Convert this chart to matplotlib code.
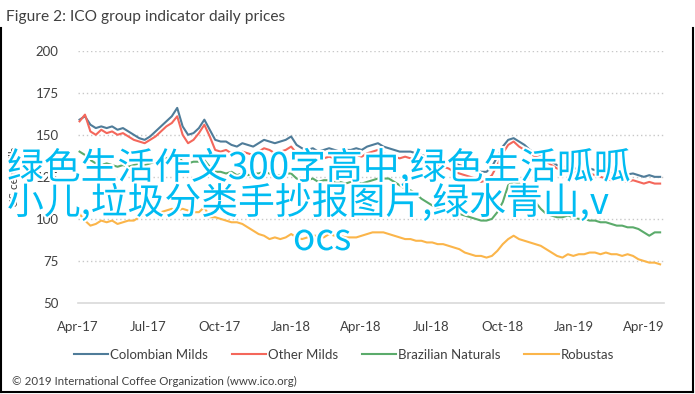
import numpy as np
import pandas as pd
import matplotlib
matplotlib.use("Agg")
import matplotlib.pyplot as plt
import matplotlib.dates as mdates
import matplotlib.patheffects as pe

# weekly readings, starting Mon 3 Apr 2017
dates = pd.date_range("2017-04-03", periods=108, freq="7D")

colombian_milds = [
    159, 161, 156, 154, 155, 154, 155, 153, 154, 152, 150, 148, 147, 149, 152, 155,
    158, 161, 166, 155, 150, 151, 154, 159, 153, 147, 146, 146, 144, 143, 145, 144,
    143, 145, 147, 146, 145, 146, 147, 149, 144, 142, 141, 142, 140, 141, 142, 141,
    140, 141, 141, 142, 141, 143, 144, 145, 143, 142, 141, 140, 140, 140, 139, 138,
    137, 137, 136, 135, 134, 133, 132, 131, 130, 129, 128, 128, 131, 137, 143, 147,
    148, 146, 144, 141, 139, 138, 136, 134, 132, 131, 131, 130, 130, 129, 130, 129,
    128, 127, 127, 128, 127, 126.5, 127, 126, 125, 126, 125, 125]
other_milds = [
    158, 162, 152, 150, 153, 151, 152, 150, 151, 149, 147, 146, 145, 147, 149, 152,
    155, 157, 161, 150, 145, 147, 151, 156, 149, 141, 140, 141, 139, 138, 140, 139,
    138, 140, 142, 141, 139, 140, 141, 143, 139, 137, 136, 137, 135, 136, 137, 136,
    135, 136, 137, 138, 137, 139, 140, 141, 139, 138, 137, 136, 137, 136, 135, 134,
    133, 134, 132, 131, 130, 128, 127, 126, 125, 124, 122, 123, 126, 132, 139, 144,
    146, 143, 141, 139, 137, 136, 134, 132, 130, 129, 128, 128, 127, 126, 127, 126,
    125, 124, 123, 124, 123, 122, 123, 122, 121, 122, 121, 121]
brazilian_naturals = [
    140, 138, 135, 133, 132, 133, 132, 131, 132, 131, 132, 133, 132, 133, 134, 135,
    136, 137, 138, 134, 133, 134, 134, 135, 131, 128, 128, 127, 128, 126, 127, 126,
    127, 127, 128, 127, 126, 126, 127, 127, 124, 123, 123, 124, 122, 123, 123, 122,
    122, 121, 122, 122, 121, 122, 123, 124, 124, 124, 122, 120, 118, 117, 115, 112,
    110, 108, 106, 105, 104, 104, 103, 102, 101, 100, 99, 99, 100, 104, 110, 120,
    122, 121, 118, 115, 110, 106, 103, 102, 101, 101, 102, 101, 100, 100, 99, 99,
    98, 98, 97, 96, 96, 95, 95, 94, 92, 90, 92, 92]
robustas = [
    103, 99, 96, 97, 99, 98, 99, 97, 98, 99, 99, 101, 103, 104, 103, 104,
    105, 106, 105, 106, 105, 104, 104, 107, 101, 101, 100, 99, 98, 98, 97, 95,
    93, 91, 90, 88, 89, 88, 89, 91, 89, 88, 89, 90, 90, 89, 91, 90,
    90, 89, 89, 89, 90, 91, 92, 92, 92, 91, 90, 89, 88, 88, 87, 87,
    86, 86, 85, 85, 84, 83, 82, 80, 79, 78, 78, 77, 78, 81, 85, 88,
    90, 88, 87, 86, 85, 84, 82, 80, 78, 77, 79, 78, 79, 79, 80, 80,
    79, 80, 79, 79, 78, 79, 78, 76, 75, 74, 74, 73]

series_names = ["Colombian Milds", "Other Milds", "Brazilian Naturals", "Robustas"]
series_colors = ["#4f7c99", "#f4675b", "#5bab6b", "#fbb54a"]
yticks = [50, 75, 100, 125, 150, 175, 200]
xtick_dates = pd.date_range("2017-04-01", "2019-04-01", freq="3MS")

plt.rcParams['font.family'] = ['Lato', 'DejaVu Sans']

fig = plt.figure(figsize=(6.95, 3.94), dpi=100)
W, H = 695, 394
ax = fig.add_axes([78 / W, 1 - 303 / H, (664 - 78) / W, (303 - 50.7) / H])

for vals, name, col in zip([colombian_milds, other_milds, brazilian_naturals, robustas],
                           series_names, series_colors):
    ax.plot(dates, vals, color=col, lw=1.5, label=name)

ax.set_ylim(50, 200)
ax.set_xlim(pd.Timestamp("2017-04-01"), pd.Timestamp("2019-04-27"))
ax.set_yticks(yticks)
ax.set_xticks(xtick_dates)
ax.xaxis.set_major_formatter(mdates.DateFormatter("%b-%y"))
ax.tick_params(length=0, labelsize=9.5, colors="#404040")
ax.tick_params(axis="y", pad=14)
ax.tick_params(axis="x", pad=13)
for t in yticks[1:]:
    ax.axhline(t, color="#c8c8c8", lw=1, ls=(0, (1, 2)), zorder=0)
for s in ["top", "right", "left"]:
    ax.spines[s].set_visible(False)
ax.spines["bottom"].set_color("#d9d9d9")
ax.spines["bottom"].set_linewidth(1.2)

fig.text(15 / W, 1 - 177 / H, "US cents/lb", rotation=90, ha="center", va="center",
         fontsize=8.5, color="#404040")

fig.text(6 / W, 1 - 17 / H, "Figure 2: ICO group indicator daily prices", ha="left",
         va="center", fontsize=11.2, color="#404040")

fig.legend(loc="center", bbox_to_anchor=(344 / W, 1 - 355 / H), ncol=4, frameon=False,
           fontsize=9.5, handlelength=2.6, handletextpad=0.15, columnspacing=1.8,
           labelcolor="#404040")

fig.text(12 / W, 1 - 381 / H, "\u00a9 2019 International Coffee Organization (www.ico.org)",
         ha="left", va="center", fontsize=8.3, color="#404040")

# frame around the chart
for xs, ys in [([1, 1], [28, 392]), ([693, 693], [28, 392]), ([1, 693], [392, 392])]:
    fig.add_artist(plt.Line2D([x / W for x in xs], [1 - y / H for y in ys],
                              color="black", lw=1.5, transform=fig.transFigure))

wm = dict(fontsize=26.5, color="#00bcf2", family=["Noto Sans CJK SC", "DejaVu Sans"],
          ha="left", va="baseline", zorder=10,
          path_effects=[pe.withStroke(linewidth=3, foreground="white")])
fig.text(7 / W, 1 - 179 / H, "绿色生活作文300字高中,绿色生活呱呱", **wm)
fig.text(7 / W, 1 - 214 / H, "小儿,垃圾分类手抄报图片,绿水青山,v", **wm)
fig.text(293 / W, 1 - 250 / H, "ocs", **wm)

fig.savefig("out.png", dpi=100)
